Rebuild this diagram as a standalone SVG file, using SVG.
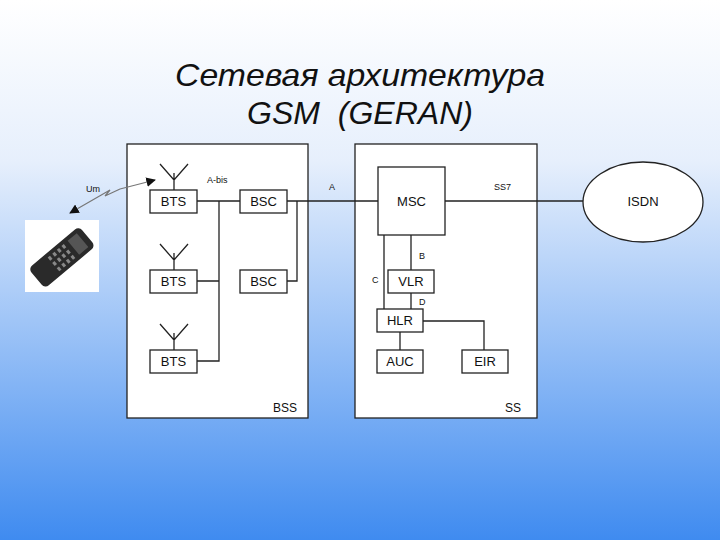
<svg xmlns="http://www.w3.org/2000/svg" width="720" height="540" viewBox="0 0 720 540">
<defs>
<linearGradient id="bg" x1="0" y1="0" x2="0" y2="1">
<stop offset="0" stop-color="#ffffff"/><stop offset="0.3" stop-color="#e6effc"/><stop offset="1" stop-color="#3f8bf0"/>
</linearGradient>
<marker id="ah" viewBox="0 0 10 10" refX="9" refY="5" markerWidth="8" markerHeight="8" orient="auto"><path d="M0,0L10,5L0,10z" fill="#111"/></marker>
<style>
.t{font-family:"Liberation Sans",Arial,sans-serif;fill:#111}
.b{fill:#fff;stroke:#222;stroke-width:1.3}
.l{fill:none;stroke:#222;stroke-width:1.3}
.n{font-size:13px;text-anchor:middle}
.s{font-size:9px}
</style>
</defs>
<rect width="720" height="540" fill="url(#bg)"/>
<text class="t" x="360" y="86" font-size="32" font-style="italic" text-anchor="middle" textLength="370" lengthAdjust="spacingAndGlyphs">Сетевая архитектура</text>
<text class="t" x="360" y="124" font-size="32" font-style="italic" text-anchor="middle" xml:space="preserve">GSM  (GERAN)</text>
<g id="BSS"><rect class="b" x="127" y="144" width="181" height="274"/><text class="t" x="285" y="412" font-size="12" text-anchor="middle">BSS</text></g>
<g id="SS"><rect class="b" x="355" y="144" width="182" height="274"/><text class="t" x="513" y="412" font-size="12" text-anchor="middle">SS</text></g>
<g id="connectors">
<path class="l" d="M197,201H240M219,201V361H197M197,281H219M287,201H378M287,281H297V201M445,201H583M384,235V309M411,235V270M411,293V309M400,332V350M423,321H484V350"/>
<path class="l" d="M174,190V173M160,164L174,180L188,164M174,270V253M160,244L174,260L188,244M174,350V333M160,324L174,340L188,324"/>
<path d="M120,189L155,180" stroke="#777" stroke-width="1.2" fill="none" marker-end="url(#ah)"/>
<path d="M120,189L105,196L110,190L70,213" stroke="#777" stroke-width="1.2" fill="none" marker-end="url(#ah)"/>
</g>
<g id="labels" class="t s">
<text x="86" y="192">Um</text><text x="207" y="183">A-bis</text><text x="329" y="190">A</text><text x="494" y="190">SS7</text>
<text x="419" y="259">B</text><text x="372" y="283">C</text><text x="419" y="305">D</text>
</g>
<g id="BTS1"><rect class="b" x="150" y="190" width="47" height="23"/><text class="t n" x="173.5" y="206">BTS</text></g>
<g id="BTS2"><rect class="b" x="150" y="270" width="47" height="23"/><text class="t n" x="173.5" y="286">BTS</text></g>
<g id="BTS3"><rect class="b" x="150" y="350" width="47" height="23"/><text class="t n" x="173.5" y="366">BTS</text></g>
<g id="BSC1"><rect class="b" x="240" y="190" width="47" height="23"/><text class="t n" x="263.5" y="206">BSC</text></g>
<g id="BSC2"><rect class="b" x="240" y="270" width="47" height="23"/><text class="t n" x="263.5" y="286">BSC</text></g>
<g id="MSC"><rect class="b" x="378" y="167" width="67" height="68"/><text class="t n" x="411.5" y="206">MSC</text></g>
<g id="VLR"><rect class="b" x="388" y="270" width="46" height="23"/><text class="t n" x="411" y="286">VLR</text></g>
<g id="HLR"><rect class="b" x="377" y="309" width="46" height="23"/><text class="t n" x="400" y="325">HLR</text></g>
<g id="AUC"><rect class="b" x="377" y="350" width="46" height="23"/><text class="t n" x="400" y="366">AUC</text></g>
<g id="EIR"><rect class="b" x="462" y="350" width="46" height="23"/><text class="t n" x="485" y="366">EIR</text></g>
<g id="ISDN"><ellipse class="b" cx="643" cy="202" rx="60" ry="40"/><text class="t n" x="643" y="206">ISDN</text></g>
<g id="phone">
<rect x="25" y="220" width="74" height="72" fill="#fff"/>
<g transform="rotate(50 62 256)">
<rect x="50" y="224" width="26" height="66" rx="5" fill="#2a2a2a"/>
<rect x="54" y="230" width="18" height="12" fill="#555"/>
<g fill="#888"><rect x="54" y="247" width="4" height="3"/><rect x="61" y="247" width="4" height="3"/><rect x="68" y="247" width="4" height="3"/>
<rect x="54" y="253" width="4" height="3"/><rect x="61" y="253" width="4" height="3"/><rect x="68" y="253" width="4" height="3"/>
<rect x="54" y="259" width="4" height="3"/><rect x="61" y="259" width="4" height="3"/><rect x="68" y="259" width="4" height="3"/>
<rect x="54" y="265" width="4" height="3"/><rect x="61" y="265" width="4" height="3"/><rect x="68" y="265" width="4" height="3"/></g>
</g>
</g>
</svg>
